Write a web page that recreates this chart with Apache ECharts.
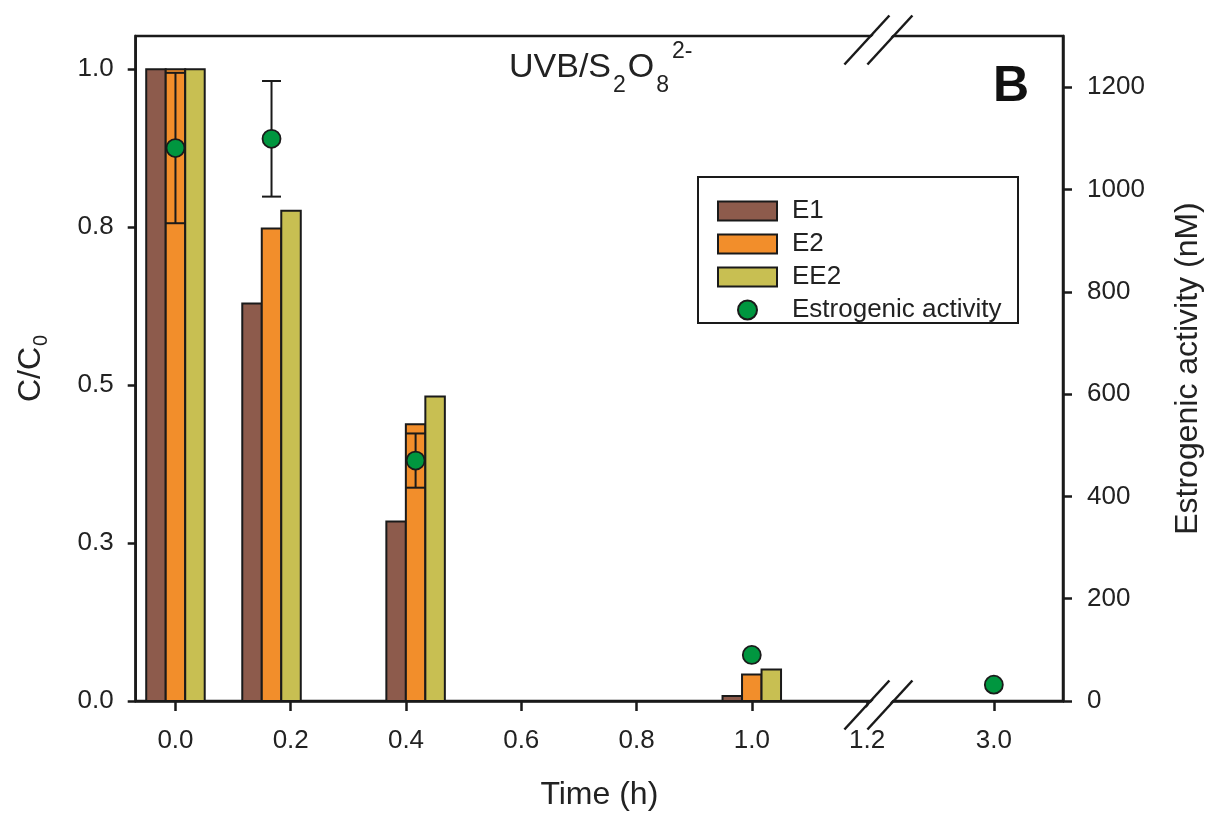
<!DOCTYPE html>
<html><head><meta charset="utf-8">
<script src="https://cdn.jsdelivr.net/npm/echarts@6/dist/echarts.min.js"></script>
<style>html,body{margin:0;padding:0;background:#fff}#c{width:1215px;height:816px}</style>
</head><body><div id="c"></div><script>
// ---- data ----
const timesH = [0, 10/60, 25/60, 1.0];
const E1 = [1.0, 0.629, 0.284, 0.008];
const E2 = [1.0, 0.748, 0.438, 0.042];
const EE2 = [1.0, 0.776, 0.482, 0.050];
const actTimesH = [0, 10/60, 25/60, 1.0, 3.0];
const activity = [1081, 1099, 470, 90, 32];
const activityErr = [147, 113, 53, 0, 0];
const xTickValues = [0, 0.2, 0.4, 0.6, 0.8, 1.0, 1.2, 3.0];
const xTickLabels = ['0.0', '0.2', '0.4', '0.6', '0.8', '1.0', '1.2', '3.0'];
const leftTickValues = [0, 0.25, 0.5, 0.75, 1.0];
const leftTickLabels = ['0.0', '0.3', '0.5', '0.8', '1.0'];
const rightTickValues = [0, 200, 400, 600, 800, 1000, 1200];
const rightTickLabels = ['0', '200', '400', '600', '800', '1000', '1200'];
const seriesNames = ['E1', 'E2', 'EE2'];
const activityName = 'Estrogenic activity';

// ---- axis break (1.2 -> 3.0 compressed) ----
const BREAK_FROM = 1.2, BREAK_TO = 3.0, BREAK_TO_POS = 1.42, BREAK_MARK = 1.2197;
function toAxis(t) {
  return t <= BREAK_FROM ? t : BREAK_FROM + (t - BREAK_FROM) * (BREAK_TO_POS - BREAK_FROM) / (BREAK_TO - BREAK_FROM);
}
const xTickPos = xTickValues.map(toAxis);
function lookup(v, vals, labels) {
  for (let i = 0; i < vals.length; i++) if (Math.abs(vals[i] - v) < 1e-6) return labels[i];
  return '';
}

const FONT = 'Liberation Sans, Arial, sans-serif';
const TXT = '#222222';
const LINE = '#1a1a1a';
const colors = ['#8d5b4c', '#f28e2b', '#c8bf52'];
const dotColor = '#00963f';
const BAR_PX = 19.5;

const chart = echarts.init(document.getElementById('c'), null, {renderer: 'canvas'});

function barSeries(name, vals, idx) {
  return {
    name: name, type: 'custom', xAxisIndex: 0, yAxisIndex: 0, z: 2,
    itemStyle: {color: colors[idx], borderColor: LINE, borderWidth: 2},
    data: timesH.map((t, i) => [toAxis(t), vals[i]]),
    renderItem: function (params, api) {
      const x = api.value(0), y = api.value(1);
      const base = api.coord([x, 0]);
      const top = api.coord([x, y]);
      const cx = base[0] + (idx - 1) * BAR_PX;
      return {
        type: 'rect',
        shape: {x: cx - BAR_PX / 2, y: top[1], width: BAR_PX, height: base[1] - top[1]},
        style: {fill: colors[idx], stroke: LINE, lineWidth: 2}
      };
    }
  };
}

const errSeries = {
  name: 'err', type: 'custom', xAxisIndex: 0, yAxisIndex: 1, z: 3, silent: true,
  data: actTimesH.map((t, i) => [toAxis(t), activity[i], activityErr[i]]),
  renderItem: function (params, api) {
    const x = api.value(0), v = api.value(1), e = api.value(2);
    if (!e) return null;
    const p1 = api.coord([x, v - e]);
    const p2 = api.coord([x, v + e]);
    const cw = 9.5;
    const st = {stroke: LINE, lineWidth: 2};
    return {
      type: 'group', children: [
        {type: 'line', shape: {x1: p1[0], y1: p1[1], x2: p2[0], y2: p2[1]}, style: st},
        {type: 'line', shape: {x1: p1[0] - cw, y1: p1[1], x2: p1[0] + cw, y2: p1[1]}, style: st},
        {type: 'line', shape: {x1: p2[0] - cw, y1: p2[1], x2: p2[0] + cw, y2: p2[1]}, style: st}
      ]
    };
  }
};

const option = {
  animation: false,
  backgroundColor: '#ffffff',
  textStyle: {fontFamily: FONT},
  grid: {left: 135.7, right: 152, top: 36, bottom: 113, show: true, borderColor: LINE, borderWidth: 2.5, backgroundColor: 'transparent'},
  legend: {
    orient: 'vertical', left: 717, top: 198, padding: 0,
    itemWidth: 59, itemHeight: 19, itemGap: 7,
    textStyle: {fontFamily: FONT, fontSize: 26, color: TXT, lineHeight: 19, padding: [0, 0, 0, 10]},
    data: [
      {name: 'E1', icon: 'rect'}, {name: 'E2', icon: 'rect'}, {name: 'EE2', icon: 'rect'},
      {name: activityName, icon: 'circle'}
    ]
  },
  xAxis: [{
    type: 'value', min: -0.069, max: 1.54,
    name: 'Time (h)', nameLocation: 'middle', nameGap: 78,
    nameTextStyle: {fontFamily: FONT, fontSize: 32, color: TXT},
    axisLine: {show: true, onZero: false, lineStyle: {color: LINE, width: 2.5}},
    axisTick: {show: true, length: 10, lineStyle: {color: LINE, width: 2.5}, customValues: xTickPos},
    axisLabel: {show: true, margin: 27, fontFamily: FONT, fontSize: 26, color: TXT, customValues: xTickPos,
      formatter: v => lookup(v, xTickPos, xTickLabels)},
    splitLine: {show: false}
  }],
  yAxis: [{
    type: 'value', position: 'left', min: 0, max: 1.0525,
    name: 'C/C{s|0}', nameLocation: 'middle', nameRotate: 90, nameGap: 84,
    nameTextStyle: {fontFamily: FONT, fontSize: 32, color: TXT,
      rich: {s: {fontFamily: FONT, fontSize: 20, color: TXT, padding: [22, 0, 0, 1]}}},
    axisLine: {show: true, onZero: false, lineStyle: {color: LINE, width: 2.5}},
    axisTick: {show: true, length: 8, lineStyle: {color: LINE, width: 2.5}, customValues: leftTickValues},
    axisLabel: {show: true, margin: 22, fontFamily: FONT, fontSize: 26, color: TXT, customValues: leftTickValues,
      formatter: v => lookup(v, leftTickValues, leftTickLabels)},
    splitLine: {show: false}
  }, {
    type: 'value', position: 'right', min: 0, max: 1300,
    name: 'Estrogenic activity (nM)', nameLocation: 'middle', nameRotate: 90, nameGap: 109,
    nameTextStyle: {fontFamily: FONT, fontSize: 32, color: TXT},
    axisLine: {show: true, onZero: false, lineStyle: {color: LINE, width: 2.5}},
    axisTick: {show: true, length: 9, lineStyle: {color: LINE, width: 2.5}, customValues: rightTickValues},
    axisLabel: {show: true, margin: 24, fontFamily: FONT, fontSize: 26, color: TXT, customValues: rightTickValues,
      formatter: v => lookup(v, rightTickValues, rightTickLabels)},
    splitLine: {show: false}
  }],
  series: [
    barSeries('E1', E1, 0),
    barSeries('E2', E2, 1),
    barSeries('EE2', EE2, 2),
    errSeries,
    {
      name: activityName, type: 'scatter', xAxisIndex: 0, yAxisIndex: 1, z: 4,
      symbol: 'circle', symbolSize: 18,
      itemStyle: {color: dotColor, borderColor: LINE, borderWidth: 1.8, opacity: 1},
      data: actTimesH.map((t, i) => [toAxis(t), activity[i]])
    }
  ],
  graphic: [
    {id: 'legendBox', type: 'rect', z: 1, shape: {x: 698, y: 177, width: 320, height: 146},
      style: {fill: '#fff', stroke: LINE, lineWidth: 2}},
    {id: 'title', type: 'text', x: 509, y: 68, z: 10,
      style: {
        text: '{a|UVB/S}{b|2}{a|O}{b|8}{c|2-}', align: 'left', verticalAlign: 'middle',
        rich: {
          a: {fontFamily: FONT, fontSize: 34, fill: TXT, color: TXT},
          b: {fontFamily: FONT, fontSize: 23, fill: TXT, color: TXT, padding: [36, 2, 0, 2]},
          c: {fontFamily: FONT, fontSize: 23, fill: TXT, color: TXT, padding: [0, 0, 32, 1]}
        }
      }},
    {id: 'panel', type: 'text', x: 1011, y: 87, z: 10,
      style: {text: 'B', fontFamily: FONT, fontSize: 50, fontWeight: 'bold', fill: '#111', align: 'center', verticalAlign: 'middle'}}
  ]
};
chart.setOption(option);

// axis-break marks on bottom and top frame lines
const bx = chart.convertToPixel({xAxisIndex: 0}, BREAK_MARK);
const yBottom = chart.convertToPixel({yAxisIndex: 0}, 0);
const yTop = 36;
function breakMarks(prefix, yc) {
  const dx = 22.5, dy = 24.5, sep = 11.5, off = 4;
  const l1 = [bx - sep - dx, yc + off + dy, bx - sep + dx, yc + off - dy];
  const l2 = [bx + sep - dx, yc + off + dy, bx + sep + dx, yc + off - dy];
  return [
    {id: prefix + 'gap', type: 'polygon', z: 20,
      shape: {points: [[l1[0] + 2, l1[1]], [l1[2] + 2, l1[3]], [l2[2] - 2, l2[3]], [l2[0] - 2, l2[1]]]},
      style: {fill: '#ffffff'}},
    {id: prefix + 'l1', type: 'line', z: 21, shape: {x1: l1[0], y1: l1[1], x2: l1[2], y2: l1[3]}, style: {stroke: LINE, lineWidth: 2.5}},
    {id: prefix + 'l2', type: 'line', z: 21, shape: {x1: l2[0], y1: l2[1], x2: l2[2], y2: l2[3]}, style: {stroke: LINE, lineWidth: 2.5}}
  ];
}
chart.setOption({graphic: breakMarks('bb', yBottom).concat(breakMarks('tb', yTop))});
</script></body></html>
